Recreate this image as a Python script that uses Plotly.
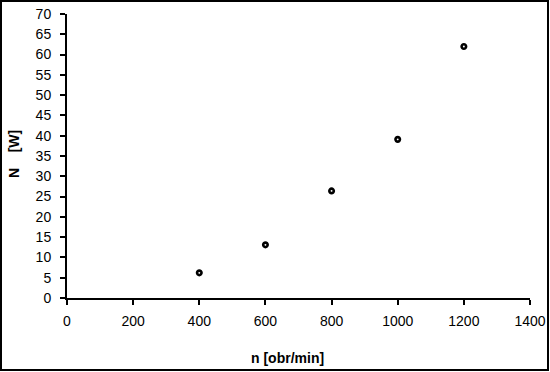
import plotly.graph_objects as go

speeds = [400, 600, 800, 1000, 1200]
power = [6.2, 13.1, 26.4, 39.1, 62.0]
x_ticks = [0, 200, 400, 600, 800, 1000, 1200, 1400]
y_ticks = list(range(0, 75, 5))

L, R, T, B = 67, 20, 14, 74
W, H = 550, 372
pw, ph = W - L - R, H - T - B

fig = go.Figure(go.Scatter(
    x=speeds, y=power, mode="markers",
    marker=dict(symbol="circle-open", size=4.5, color="black", line=dict(width=2.6, color="black")),
))

fig.update_layout(
    width=W, height=H,
    margin=dict(l=L, r=R, t=T, b=B, autoexpand=False),
    paper_bgcolor="white", plot_bgcolor="white",
    showlegend=False,
    font=dict(family="Liberation Sans, Arial, sans-serif", size=14, color="black"),
    xaxis=dict(range=[0, 1400], tickvals=x_ticks, ticks="outside", ticklen=5, tickwidth=2,
               tickcolor="black", showline=True, linecolor="black", linewidth=2,
               showgrid=False, zeroline=False, ticklabelstandoff=4, automargin=False),
    yaxis=dict(range=[0, 70], tickvals=y_ticks, ticks="outside", ticklen=5, tickwidth=2,
               tickcolor="black", showline=True, linecolor="black", linewidth=2,
               showgrid=False, zeroline=False, ticklabelstandoff=6, automargin=False),
    annotations=[
        dict(text="<b>n [obr/min]</b>", xref="paper", yref="paper",
             x=(287 - L) / pw, y=-(358 - (T + ph)) / ph, showarrow=False,
             xanchor="center", yanchor="middle", font=dict(size=14)),
        dict(text="<b>N    [W]</b>", xref="paper", yref="paper",
             x=(14 - L) / pw, y=(T + ph - 154) / ph, showarrow=False, textangle=-90,
             xanchor="center", yanchor="middle", font=dict(size=14)),
    ],
    shapes=[dict(type="rect", xref="paper", yref="paper",
                 x0=(1 - L) / pw, x1=(548 - L) / pw,
                 y0=(T + ph - 370) / ph, y1=(T + ph - 1) / ph,
                 line=dict(color="black", width=2), layer="above")],
)

fig.write_html(
    "out.html",
    config={"displayModeBar": False},
    post_script="document.body.style.margin='0';document.body.style.padding='0';"
                "document.body.style.overflow='hidden';document.documentElement.style.overflow='hidden';",
)
